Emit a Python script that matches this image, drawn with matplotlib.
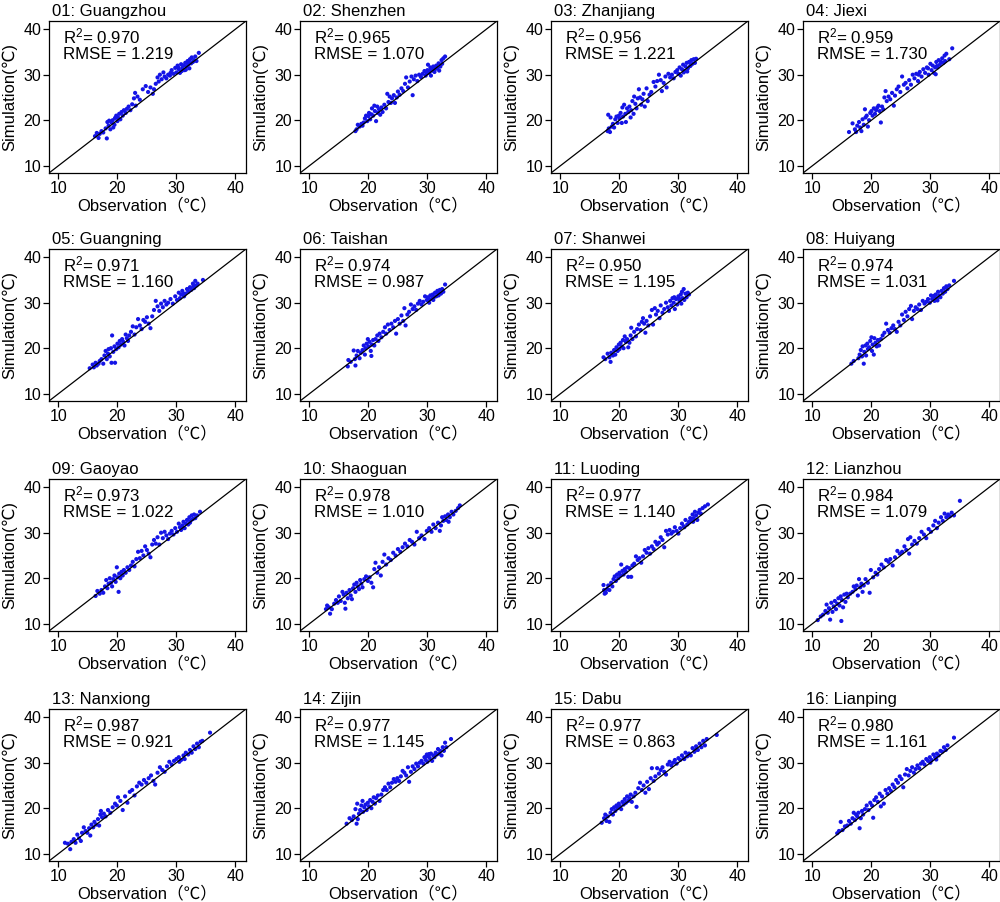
import matplotlib
matplotlib.use('Agg')
import matplotlib.pyplot as plt

plt.rcParams['font.family'] = ['Liberation Sans', 'DejaVu Sans']
plt.rcParams['mathtext.fontset'] = 'custom'
plt.rcParams['mathtext.rm'] = 'Liberation Sans'
plt.rcParams['mathtext.it'] = 'Liberation Sans:italic'

stations = ['01: Guangzhou', '02: Shenzhen', '03: Zhanjiang', '04: Jiexi',
            '05: Guangning', '06: Taishan', '07: Shanwei', '08: Huiyang',
            '09: Gaoyao', '10: Shaoguan', '11: Luoding', '12: Lianzhou',
            '13: Nanxiong', '14: Zijin', '15: Dabu', '16: Lianping']
r2_values = ['0.970', '0.965', '0.956', '0.959', '0.971', '0.974', '0.950', '0.974',
             '0.973', '0.978', '0.977', '0.984', '0.987', '0.977', '0.977', '0.980']
rmse_values = ['1.219', '1.070', '1.221', '1.730', '1.160', '0.987', '1.195', '1.031',
               '1.022', '1.010', '1.140', '1.079', '0.921', '1.145', '0.863', '1.161']
axis_ticks = [10, 20, 30, 40]

# (observation, simulation) pairs
guangzhou = [(16.2,16.5),(16.5,17.2),(16.8,16.1),(17.0,17.0),(17.3,17.6),(17.6,17.3),(18.0,18.2),(18.2,16.0),(18.3,19.6),(18.5,18.8),(18.6,19.9),(18.8,18.0),(19.0,19.5),(19.2,20.0),(19.3,18.4),(19.5,19.0),(19.6,20.5),(19.8,21.0),(20.0,19.8),(20.1,20.6),(20.3,21.4),(20.5,20.2),(20.7,21.8),(20.9,21.0),(21.1,22.2),(21.4,21.6),(21.6,22.5),(21.9,23.0),(22.2,22.2),(22.5,23.5),(22.8,24.8),(23.0,26.0),(23.1,23.2),(23.4,25.2),(23.8,24.5),(24.3,26.8),(24.8,27.5),(25.2,26.2),(25.6,27.2),(26.0,25.8),(26.2,26.8),(26.5,28.0),(26.8,29.4),(27.0,28.5),(27.2,30.0),(27.5,29.0),(27.8,30.5),(28.0,29.6),(28.3,29.2),(28.6,30.0),(28.9,29.8),(29.2,31.0),(29.5,30.2),(29.8,31.5),(30.0,30.5),(30.2,32.0),(30.4,31.2),(30.6,30.4),(30.8,32.3),(31.0,31.5),(31.2,32.0),(31.4,31.0),(31.5,32.6),(31.7,31.8),(31.9,33.0),(32.0,32.2),(32.2,31.4),(32.3,33.4),(32.5,32.5),(32.6,33.8),(32.8,32.8),(33.0,33.2),(33.2,34.0),(33.4,33.0),(33.8,34.8),(30.9,30.8),(31.6,31.1),(32.1,32.7),(29.0,30.4),(30.3,31.6)]
shenzhen = [(17.8,17.6),(18.0,18.0),(18.2,19.0),(18.5,18.6),(18.8,19.2),(19.0,18.8),(19.2,19.5),(19.4,20.4),(19.6,21.0),(19.8,19.8),(20.0,20.9),(20.1,21.6),(20.3,20.2),(20.5,21.3),(20.6,22.6),(20.8,21.0),(21.0,23.2),(21.1,22.0),(21.3,19.8),(21.5,23.0),(21.6,21.6),(21.8,22.4),(22.0,21.2),(22.2,22.8),(22.4,21.8),(22.7,23.4),(23.0,22.6),(23.2,25.8),(23.4,24.0),(23.6,25.2),(23.8,23.8),(24.0,24.8),(24.3,25.5),(24.5,23.8),(24.8,25.0),(25.0,26.3),(25.3,25.6),(25.6,27.0),(25.9,26.4),(26.2,28.0),(26.4,29.4),(26.7,27.2),(27.0,28.5),(27.3,29.6),(27.5,25.5),(27.7,29.0),(28.0,29.8),(28.3,28.6),(28.6,30.0),(28.9,29.5),(29.2,30.2),(29.5,30.8),(29.7,29.8),(30.0,31.0),(30.1,32.2),(30.3,30.4),(30.5,31.6),(30.6,29.8),(30.8,30.9),(31.0,31.8),(31.2,30.6),(31.3,31.2),(31.5,32.0),(31.7,31.4),(31.9,32.5),(32.0,30.9),(32.2,31.8),(32.4,33.2),(32.5,32.4),(32.7,33.6),(33.0,34.0),(30.4,30.9),(29.9,30.3),(31.1,31.3)]
zhanjiang = [(18.0,17.6),(18.1,21.2),(18.2,18.2),(18.4,17.4),(18.5,20.6),(18.7,18.6),(18.9,19.2),(19.1,18.4),(19.3,20.2),(19.5,20.8),(19.7,19.4),(19.9,21.0),(20.0,20.4),(20.2,21.6),(20.4,19.4),(20.5,22.8),(20.6,20.8),(20.8,23.4),(21.0,21.4),(21.1,19.6),(21.3,22.6),(21.5,21.8),(21.7,23.0),(21.9,20.6),(22.0,22.2),(22.2,24.2),(22.4,21.4),(22.5,25.2),(22.7,23.6),(22.9,22.6),(23.1,24.8),(23.3,26.8),(23.5,25.0),(23.7,23.4),(23.9,24.6),(24.1,25.8),(24.3,23.0),(24.6,27.0),(24.8,24.2),(25.1,25.6),(25.4,26.2),(25.8,28.4),(26.1,27.4),(26.4,28.6),(26.7,30.0),(27.0,28.8),(27.2,26.4),(27.5,28.2),(27.8,29.6),(28.0,27.2),(28.3,30.2),(28.6,29.4),(28.9,30.0),(29.2,29.2),(29.5,30.6),(29.8,31.0),(30.0,30.2),(30.2,31.6),(30.4,29.8),(30.6,31.2),(30.8,32.2),(31.0,30.8),(31.2,31.8),(31.4,32.6),(31.6,31.4),(31.8,32.8),(32.0,31.9),(32.2,33.2),(32.4,32.4),(32.6,33.4),(32.8,32.6),(33.0,33.5),(31.5,30.7),(32.1,32.1),(30.9,30.5)]
jiexi = [(16.2,17.4),(16.8,19.3),(17.2,18.0),(17.4,17.4),(17.6,18.8),(17.9,19.6),(18.1,18.4),(18.3,17.6),(18.5,20.2),(18.7,19.0),(18.9,22.4),(19.0,20.6),(19.2,21.0),(19.4,18.6),(19.6,20.0),(19.8,21.6),(20.0,22.0),(20.2,21.0),(20.4,22.6),(20.6,21.4),(20.8,22.2),(21.0,22.8),(21.2,23.2),(21.4,22.0),(21.6,19.5),(21.8,23.0),(22.0,22.4),(22.2,25.0),(22.4,26.4),(22.6,24.2),(22.9,25.2),(23.2,24.6),(23.5,26.0),(23.8,23.2),(24.0,25.4),(24.3,26.8),(24.6,27.4),(24.9,26.2),(25.2,29.6),(25.5,27.8),(25.8,28.2),(26.1,27.0),(26.4,28.8),(26.7,27.8),(27.0,30.0),(27.3,29.2),(27.6,30.2),(27.9,28.6),(28.2,30.6),(28.5,29.6),(28.8,31.2),(29.1,30.4),(29.4,31.6),(29.7,30.0),(30.0,32.4),(30.2,31.0),(30.4,32.0),(30.6,30.4),(30.8,31.6),(31.0,32.8),(31.2,31.6),(31.4,33.2),(31.6,32.2),(31.8,32.8),(32.0,33.6),(32.2,32.6),(32.4,34.2),(32.5,33.0),(32.7,34.6),(33.2,33.4),(33.7,35.8),(31.1,31.9),(29.6,31.4),(28.0,30.0),(30.9,30.1)]
guangning = [(15.3,15.6),(15.8,16.4),(16.0,15.8),(16.3,16.8),(16.5,16.2),(16.8,16.6),(17.0,17.2),(17.3,17.6),(17.6,16.6),(17.8,18.4),(18.0,19.4),(18.2,17.6),(18.4,18.8),(18.5,19.8),(18.7,18.2),(18.9,20.0),(19.0,16.8),(19.1,22.8),(19.3,19.2),(19.5,20.4),(19.6,16.8),(19.8,19.8),(20.0,21.0),(20.2,20.2),(20.4,21.6),(20.6,20.8),(20.8,22.0),(21.0,21.4),(21.2,20.6),(21.4,23.0),(21.6,22.2),(21.8,21.6),(22.0,22.8),(22.3,23.6),(22.6,24.8),(22.9,23.0),(23.2,24.6),(23.5,26.4),(23.8,25.0),(24.1,24.2),(24.4,26.2),(24.7,25.8),(25.0,26.8),(25.3,25.4),(25.6,24.4),(25.9,27.0),(26.2,28.4),(26.5,30.4),(26.8,29.2),(27.1,28.2),(27.4,29.8),(27.7,29.0),(28.0,30.4),(28.3,29.6),(28.6,30.0),(29.0,30.8),(29.4,29.8),(29.8,31.4),(30.1,30.6),(30.4,32.2),(30.6,31.0),(30.8,31.8),(31.0,32.6),(31.3,31.4),(31.5,32.0),(31.8,33.0),(32.0,32.4),(32.3,33.4),(32.5,32.8),(32.8,34.2),(33.0,33.2),(33.2,34.8),(33.4,33.8),(33.6,34.2),(34.5,35.0),(32.9,33.7),(31.2,31.9)]
taishan = [(16.5,16.0),(16.6,17.4),(17.0,17.0),(17.5,19.5),(17.7,17.6),(17.8,16.2),(18.0,18.4),(18.2,19.4),(18.5,17.8),(18.7,19.0),(19.0,19.6),(19.2,20.6),(19.4,18.6),(19.5,20.0),(19.7,21.0),(19.9,22.0),(20.0,20.4),(20.2,21.4),(20.4,19.4),(20.5,18.3),(20.6,20.8),(20.8,21.8),(21.0,20.6),(21.2,22.0),(21.5,22.8),(21.7,21.6),(21.9,23.2),(22.2,22.4),(22.5,23.6),(22.8,24.6),(23.0,23.2),(23.3,25.2),(23.6,24.0),(23.9,25.4),(24.2,24.6),(24.5,26.0),(24.7,23.2),(25.0,26.4),(25.3,25.4),(25.6,27.2),(25.9,26.0),(26.1,28.8),(26.3,25.0),(26.6,27.4),(26.9,28.0),(27.2,29.6),(27.5,28.6),(27.8,29.2),(28.1,28.4),(28.4,29.8),(28.7,30.4),(29.0,29.6),(29.3,30.2),(29.6,31.4),(29.9,30.6),(30.1,31.2),(30.3,30.0),(30.5,31.6),(30.7,30.8),(30.9,31.8),(31.1,31.2),(31.3,32.2),(31.5,31.4),(31.7,32.6),(31.9,31.6),(32.1,32.8),(32.3,32.0),(32.5,33.0),(32.7,32.4),(33.0,34.0),(30.2,30.7),(31.0,30.6),(31.8,32.1)]
shanwei = [(17.3,18.0),(17.6,17.6),(18.0,18.8),(18.3,18.0),(18.5,17.0),(18.6,19.0),(18.9,18.4),(19.1,19.6),(19.3,18.6),(19.5,20.2),(19.7,19.4),(19.9,20.8),(20.0,19.8),(20.2,21.2),(20.4,20.4),(20.6,21.8),(20.7,20.0),(20.9,22.6),(21.1,21.4),(21.3,22.0),(21.5,20.2),(21.7,21.2),(21.9,22.8),(22.0,24.5),(22.2,22.0),(22.5,23.6),(22.8,22.6),(23.0,24.2),(23.3,25.2),(23.6,24.0),(23.8,25.8),(24.0,26.6),(24.2,25.4),(24.4,23.4),(24.6,26.0),(24.9,25.0),(25.2,27.0),(25.5,28.4),(25.7,25.2),(26.0,28.8),(26.2,27.4),(26.5,28.2),(26.8,26.6),(27.0,29.4),(27.3,27.8),(27.6,28.6),(27.9,30.0),(28.2,29.0),(28.4,28.2),(28.6,30.4),(28.8,29.4),(29.0,31.0),(29.2,30.0),(29.4,28.6),(29.6,30.8),(29.8,29.6),(30.0,31.4),(30.2,30.4),(30.4,31.8),(30.5,29.8),(30.7,31.0),(30.9,33.0),(31.0,30.6),(31.2,32.0),(31.4,31.2),(31.6,32.2),(31.8,31.8),(29.3,31.2),(30.1,30.9),(30.6,32.4)]
huiyang = [(16.6,16.6),(17.0,17.2),(17.8,17.8),(18.0,18.6),(18.2,19.6),(18.4,18.2),(18.5,20.4),(18.7,16.6),(18.8,19.2),(19.0,20.6),(19.1,18.4),(19.3,21.0),(19.4,19.8),(19.6,20.2),(19.8,21.6),(20.0,22.4),(20.1,19.4),(20.2,20.8),(20.4,18.6),(20.5,22.2),(20.7,21.2),(20.9,20.4),(21.1,21.8),(21.3,20.6),(21.6,22.0),(21.9,22.8),(22.2,23.4),(22.5,25.4),(22.8,24.0),(23.1,23.4),(23.4,24.4),(23.7,25.0),(24.0,24.2),(24.3,23.6),(24.6,25.8),(24.9,25.0),(25.2,27.4),(25.5,26.2),(25.8,28.0),(26.1,27.0),(26.4,28.6),(26.7,29.3),(26.9,26.4),(27.2,28.2),(27.5,29.0),(27.8,28.6),(28.1,29.6),(28.4,28.4),(28.7,30.4),(29.0,29.8),(29.3,30.2),(29.6,30.8),(29.9,30.0),(30.1,31.6),(30.3,30.8),(30.5,31.2),(30.7,30.4),(30.9,31.8),(31.1,31.0),(31.3,32.4),(31.5,31.6),(31.7,31.2),(31.9,32.6),(32.1,32.0),(32.3,33.2),(32.5,32.4),(32.7,33.6),(32.9,33.0),(33.2,33.8),(34.0,34.8),(31.2,30.5),(30.6,31.5)]
gaoyao = [(16.3,16.1),(16.6,17.2),(17.0,16.6),(17.3,17.4),(17.6,16.8),(17.9,18.2),(18.1,19.6),(18.3,17.8),(18.5,18.8),(18.7,20.0),(18.9,19.0),(19.1,18.2),(19.3,19.8),(19.5,20.6),(19.7,19.2),(19.9,22.4),(20.0,20.2),(20.2,17.0),(20.3,21.0),(20.5,20.0),(20.7,21.4),(20.9,20.6),(21.1,21.8),(21.4,21.2),(21.7,22.4),(22.0,21.8),(22.3,22.8),(22.6,23.6),(22.9,22.6),(23.2,24.2),(23.5,25.8),(23.8,24.4),(24.1,26.0),(24.4,25.0),(24.7,27.0),(25.0,26.2),(25.3,25.4),(25.6,24.6),(25.9,27.4),(26.2,28.4),(26.5,27.6),(26.8,29.0),(27.1,27.4),(27.4,30.0),(27.7,28.8),(28.0,30.2),(28.3,29.4),(28.6,28.6),(28.9,29.8),(29.2,30.4),(29.5,29.6),(29.8,31.0),(30.1,30.2),(30.4,32.0),(30.6,31.2),(30.8,30.6),(31.0,31.6),(31.2,32.4),(31.4,31.0),(31.6,32.0),(31.8,32.8),(32.0,31.8),(32.2,33.4),(32.4,32.6),(32.6,33.8),(32.8,33.0),(33.0,34.0),(33.2,33.2),(33.5,33.8),(34.0,34.6),(32.3,32.2),(31.1,31.1)]
shaoguan = [(12.8,13.2),(13.0,14.0),(13.3,13.6),(13.5,12.2),(13.8,13.2),(14.2,14.4),(14.5,15.2),(14.8,14.6),(15.0,16.0),(15.3,15.0),(15.6,17.0),(15.8,16.4),(16.0,14.6),(16.1,13.3),(16.3,16.8),(16.5,15.6),(16.8,17.4),(17.0,16.2),(17.2,15.4),(17.4,17.8),(17.6,18.6),(17.8,17.0),(18.0,19.0),(18.2,18.2),(18.4,17.6),(18.6,19.6),(18.8,18.8),(19.0,18.0),(19.3,19.8),(19.6,20.4),(19.9,19.4),(20.2,20.2),(20.5,19.0),(20.8,18.0),(21.0,22.0),(21.2,23.4),(21.5,21.2),(21.8,22.4),(22.1,20.6),(22.4,23.6),(22.7,25.2),(23.0,23.0),(23.4,24.4),(23.8,24.0),(24.2,25.6),(24.6,25.0),(25.0,26.4),(25.4,25.8),(25.8,26.8),(26.2,27.6),(26.6,27.0),(27.0,28.4),(27.4,28.0),(27.8,27.4),(28.2,30.2),(28.6,28.8),(29.0,29.4),(29.5,28.6),(29.9,30.4),(30.3,31.0),(30.7,30.2),(31.0,31.8),(31.4,31.0),(31.8,32.2),(32.1,30.4),(32.3,31.6),(32.5,33.4),(32.7,32.6),(33.0,33.6),(33.2,32.8),(33.5,34.0),(33.8,33.4),(34.1,34.6),(34.4,34.0),(34.8,34.8),(35.2,35.4),(35.5,36.0),(33.6,32.4)]
luoding = [(17.3,18.5),(17.4,17.4),(17.5,16.6),(17.7,16.8),(17.9,17.6),(18.1,18.4),(18.3,17.4),(18.6,19.0),(18.8,18.2),(19.0,19.8),(19.2,20.4),(19.4,19.4),(19.6,20.8),(19.8,20.0),(20.0,21.2),(20.2,20.6),(20.3,23.0),(20.5,21.6),(20.7,20.8),(20.9,22.0),(21.1,21.4),(21.3,22.4),(21.5,20.3),(21.7,22.2),(22.0,20.3),(22.2,22.8),(22.5,23.2),(22.8,24.8),(23.1,24.0),(23.4,24.4),(23.7,23.4),(24.0,24.8),(24.3,26.2),(24.6,25.6),(24.9,26.6),(25.2,25.4),(25.5,27.0),(25.8,26.4),(26.1,28.0),(26.4,27.4),(26.7,27.8),(27.0,29.0),(27.3,28.4),(27.6,26.8),(27.9,30.4),(28.2,29.6),(28.5,30.6),(28.8,29.8),(29.1,30.2),(29.4,31.2),(29.7,30.4),(30.0,29.8),(30.3,31.0),(30.6,32.0),(30.9,31.4),(31.2,32.8),(31.5,31.8),(31.8,32.4),(32.0,33.2),(32.2,32.6),(32.4,34.0),(32.6,33.2),(32.8,34.6),(33.0,33.8),(33.2,32.8),(33.4,34.4),(33.6,35.0),(33.8,34.2),(34.1,35.4),(34.5,35.8),(35.0,36.2),(32.5,32.4),(31.0,31.2)]
lianzhou = [(10.9,10.8),(11.4,11.6),(11.8,12.0),(12.2,12.8),(12.4,14.2),(12.6,12.4),(12.8,13.4),(13.0,10.9),(13.2,14.6),(13.4,12.6),(13.6,13.8),(13.8,15.0),(14.0,13.2),(14.2,14.4),(14.4,15.6),(14.6,14.0),(14.8,16.0),(14.9,10.6),(15.0,15.2),(15.2,13.6),(15.4,16.4),(15.6,14.8),(15.8,16.6),(16.0,15.8),(16.4,16.6),(16.8,17.0),(17.0,18.2),(17.3,17.6),(17.5,18.4),(17.7,16.2),(17.9,19.8),(18.1,18.0),(18.3,18.8),(18.5,17.0),(18.7,18.4),(19.0,19.8),(19.4,19.0),(19.7,16.8),(19.9,21.8),(20.3,20.2),(20.7,21.2),(21.0,20.8),(21.3,22.0),(21.7,23.0),(22.1,22.4),(22.5,24.0),(22.9,23.6),(23.2,24.2),(23.6,22.8),(24.0,24.6),(24.4,26.0),(24.8,25.4),(25.2,25.8),(25.6,27.0),(25.9,26.2),(26.2,28.6),(26.4,25.4),(26.6,29.0),(26.9,27.4),(27.3,28.2),(27.7,27.6),(28.1,28.8),(28.5,30.2),(28.9,29.6),(29.3,28.8),(29.7,30.8),(30.1,30.2),(30.5,31.6),(30.8,32.6),(31.1,31.0),(31.4,32.2),(31.8,33.4),(32.1,32.6),(32.4,34.2),(32.7,33.4),(33.0,34.0),(33.3,33.6),(33.6,34.4),(34.0,33.8),(35.0,37.0)]
nanxiong = [(11.1,12.4),(11.6,12.2),(12.0,11.0),(12.2,12.6),(12.6,13.2),(12.9,12.4),(13.2,14.2),(13.5,13.4),(13.8,12.8),(14.0,14.6),(14.3,15.8),(14.6,15.0),(14.9,14.6),(15.2,15.6),(15.4,14.0),(15.6,16.4),(15.9,15.8),(16.1,17.0),(16.4,16.4),(16.7,17.6),(16.9,16.2),(17.1,18.6),(17.2,19.4),(17.4,18.0),(17.7,18.8),(18.0,18.2),(18.4,19.6),(18.8,19.0),(19.2,20.2),(19.6,21.0),(19.9,20.6),(20.1,22.4),(20.5,21.6),(20.9,19.6),(21.3,22.6),(21.7,21.2),(22.1,23.6),(22.5,24.0),(22.9,22.8),(23.3,24.8),(23.7,25.6),(24.1,25.2),(24.5,26.2),(24.9,25.6),(25.3,26.6),(25.7,27.2),(26.1,26.0),(26.4,25.2),(26.8,27.8),(27.2,29.0),(27.6,28.4),(28.0,28.0),(28.4,29.2),(28.8,30.2),(29.2,29.6),(29.6,30.4),(30.0,30.8),(30.4,31.2),(30.8,30.6),(31.2,31.6),(31.6,32.2),(32.0,31.8),(32.3,32.8),(32.6,32.2),(32.9,33.6),(33.2,33.0),(33.5,34.2),(33.8,33.4),(34.1,34.6),(34.4,34.8),(35.7,36.6),(30.5,30.2),(31.4,30.8)]
zijin = [(16.3,16.6),(16.8,17.8),(17.2,17.4),(17.5,18.2),(17.8,19.8),(18.0,16.6),(18.1,21.0),(18.2,17.6),(18.4,18.8),(18.6,19.6),(18.8,20.6),(19.0,21.6),(19.1,19.2),(19.3,20.2),(19.5,20.8),(19.7,19.6),(19.9,21.2),(20.1,20.4),(20.3,21.8),(20.5,20.0),(20.7,21.4),(20.9,22.4),(21.1,21.0),(21.3,22.2),(21.6,22.8),(21.9,21.6),(22.2,23.0),(22.5,24.0),(22.8,24.6),(23.1,24.0),(23.4,25.4),(23.7,24.6),(24.0,25.6),(24.3,26.4),(24.6,25.8),(24.9,26.6),(25.2,26.0),(25.5,27.0),(25.8,28.2),(26.1,27.8),(26.4,27.2),(26.7,29.0),(26.9,25.8),(27.2,28.0),(27.5,29.2),(27.8,28.6),(28.1,29.8),(28.4,29.2),(28.7,30.0),(29.0,30.4),(29.3,29.8),(29.5,31.2),(29.7,30.6),(29.9,31.8),(30.0,30.2),(30.2,31.4),(30.4,31.0),(30.6,32.0),(30.8,30.4),(31.0,31.6),(31.2,31.2),(31.4,32.2),(31.6,31.8),(31.8,33.0),(32.0,32.0),(32.2,32.6),(32.4,31.6),(32.6,33.4),(32.8,32.6),(33.0,34.4),(33.2,33.4),(34.0,35.2),(30.3,31.9),(29.8,31.4)]
dabu = [(17.0,16.8),(17.4,17.8),(17.6,18.6),(17.8,17.2),(18.0,18.2),(18.3,17.0),(18.5,19.0),(18.7,19.8),(18.9,18.6),(19.1,20.2),(19.3,19.4),(19.5,20.6),(19.7,20.0),(19.9,21.0),(20.1,20.4),(20.3,19.8),(20.5,21.4),(20.7,20.8),(20.9,22.0),(21.1,21.2),(21.3,22.6),(21.5,21.6),(21.7,22.2),(21.9,23.0),(22.1,21.4),(22.4,22.6),(22.7,23.4),(22.9,20.3),(23.2,24.4),(23.5,25.6),(23.8,24.0),(24.1,25.0),(24.4,23.4),(24.7,25.8),(25.0,24.2),(25.3,26.6),(25.5,28.8),(25.8,26.0),(26.1,27.0),(26.4,28.8),(26.7,27.6),(27.0,28.4),(27.3,29.0),(27.6,28.0),(27.9,27.4),(28.2,29.6),(28.5,30.2),(28.8,29.4),(29.1,30.0),(29.4,30.6),(29.7,29.8),(30.0,31.0),(30.3,30.6),(30.6,31.6),(30.9,31.0),(31.2,32.2),(31.5,31.4),(31.8,32.0),(32.1,31.6),(32.4,33.2),(32.7,32.4),(33.0,33.6),(33.3,32.8),(33.6,34.2),(33.9,33.4),(34.2,34.8),(34.5,33.8),(34.8,35.2),(36.5,36.1),(32.9,32.8),(31.0,30.8)]
lianping = [(14.2,14.5),(14.5,15.0),(14.8,17.0),(15.1,15.2),(15.5,16.0),(15.9,16.2),(16.2,17.2),(16.5,16.6),(16.8,17.8),(17.0,19.0),(17.2,17.4),(17.4,18.6),(17.6,18.2),(17.8,19.0),(18.0,15.6),(18.2,17.8),(18.4,19.4),(18.6,18.6),(18.9,19.8),(19.2,20.6),(19.5,19.6),(19.8,21.2),(20.1,20.6),(20.3,17.9),(20.5,21.8),(20.8,22.4),(21.1,21.4),(21.4,23.2),(21.6,20.4),(21.8,22.6),(22.1,21.0),(22.4,24.0),(22.7,23.2),(23.0,24.4),(23.3,23.8),(23.6,25.2),(23.9,24.6),(24.2,26.2),(24.5,25.6),(24.8,27.0),(25.1,26.4),(25.4,24.6),(25.7,27.4),(26.0,28.6),(26.3,27.2),(26.6,28.2),(26.9,29.0),(27.2,27.8),(27.5,28.6),(27.8,29.4),(28.1,28.8),(28.4,29.8),(28.7,30.2),(29.0,29.6),(29.3,30.8),(29.6,30.4),(29.9,31.2),(30.2,30.6),(30.5,31.8),(30.8,31.2),(31.1,32.0),(31.4,31.6),(31.7,32.6),(32.0,32.4),(32.3,33.4),(32.6,32.8),(32.9,33.8),(34.0,35.5),(30.0,30.0),(31.0,30.7)]

station_points = [guangzhou, shenzhen, zhanjiang, jiexi, guangning, taishan, shanwei, huiyang,
                  gaoyao, shaoguan, luoding, lianzhou, nanxiong, zijin, dabu, lianping]

FW, FH = 1000, 902
fig = plt.figure(figsize=(FW / 100, FH / 100), dpi=100)
col_left = [49, 300, 551, 803]
row_top = [21, 249, 479, 709]
AW, AH = 197, 152
lo, hi = 8.4, 41.8

for i, (name, r2, rmse, pts) in enumerate(zip(stations, r2_values, rmse_values, station_points)):
    r, c = divmod(i, 4)
    ax = fig.add_axes([col_left[c] / FW, 1 - (row_top[r] + AH) / FH, AW / FW, AH / FH])
    obs = [p[0] for p in pts]
    sim = [p[1] for p in pts]
    ax.scatter(obs, sim, s=9, color='#1414E6', edgecolors='none', zorder=2)
    ax.plot([lo, hi], [lo, hi], color='black', lw=0.9, zorder=3)
    ax.set_xlim(lo, hi)
    ax.set_ylim(lo, hi)
    ax.set_xticks(axis_ticks)
    ax.set_yticks(axis_ticks)
    ax.tick_params(axis='both', which='both', direction='out', length=4, width=0.9,
                   labelsize=11.5, pad=1.5, top=False, right=False, colors='black')
    for sp in ax.spines.values():
        sp.set_linewidth(0.9)
        sp.set_color('black')
    ax.text(0.015, 1.032, name, transform=ax.transAxes, ha='left', va='baseline', fontsize=12)
    ax.text(0.07, 0.853, r'R$^{2}$= ' + r2, transform=ax.transAxes, ha='left', va='baseline', fontsize=12.2)
    ax.text(0.07, 0.748, 'RMSE = ' + rmse, transform=ax.transAxes, ha='left', va='baseline', fontsize=12.2)
    ax.text(-0.198, 0.5, 'Simulation(℃)', transform=ax.transAxes, rotation=90,
            ha='center', va='center', fontsize=12, family=['Liberation Sans', 'DejaVu Sans'])
    ax.text(0.5, -0.212, 'Observation（℃）', transform=ax.transAxes, ha='center', va='center',
            fontsize=12, family=['Liberation Sans', 'Noto Sans CJK SC'])

fig.savefig('out.png', dpi=100, facecolor='white')
